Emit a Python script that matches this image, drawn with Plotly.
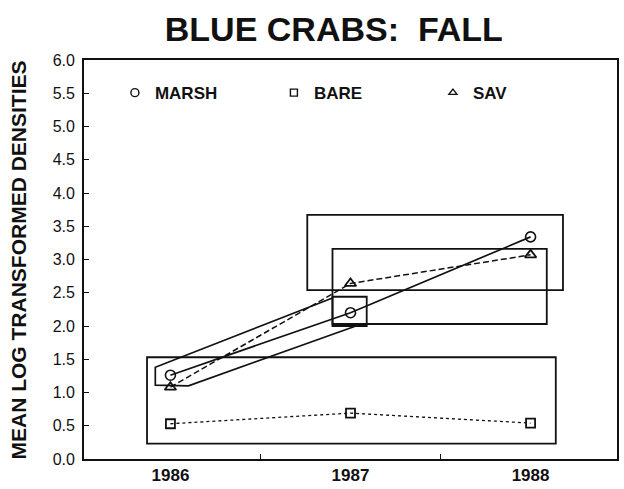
import plotly.graph_objects as go

# Sampling years and mean log-transformed blue crab densities (fall)
years = [1986, 1987, 1988]
marsh = [1.26, 2.20, 3.34]
bare = [0.53, 0.69, 0.54]
sav = [1.08, 2.64, 3.07]

year_labels = ["1986", "1987", "1988"]
y_ticks = [0.0, 0.5, 1.0, 1.5, 2.0, 2.5, 3.0, 3.5, 4.0, 4.5, 5.0, 5.5, 6.0]

# Groupings of means that do not differ significantly (year span, density span)
group_boxes = [
    ([1985.87, 1988.14], [0.23, 1.53]),
    ([1986.76, 1988.18], [2.54, 3.67]),
    ([1986.90, 1988.09], [2.03, 3.16]),
    ([1986.90, 1987.09], [2.00, 2.44]),
]
# Band linking the 1986 and 1987 marsh means
band_x = [1986.90, 1985.916, 1985.916, 1986.10, 1987.03]
band_y = [2.42, 1.38, 1.11, 1.10, 2.00]

INK = "#111111"
FONT = "Liberation Sans, Arial, sans-serif"
fig = go.Figure()

fig.add_trace(go.Scatter(x=band_x, y=band_y, mode="lines",
                         line=dict(color=INK, width=1.7),
                         showlegend=False, hoverinfo="skip"))

fig.add_trace(go.Scatter(x=years, y=bare, mode="lines+markers",
                         line=dict(color=INK, width=1.3, dash="dot"),
                         marker=dict(symbol="square-open", size=9,
                                     color=INK, line=dict(width=1.8)),
                         showlegend=False))
fig.add_trace(go.Scatter(x=years, y=sav, mode="lines+markers",
                         line=dict(color=INK, width=1.5, dash="6px,3px"),
                         marker=dict(symbol="triangle-up-open", size=10,
                                     color=INK, line=dict(width=1.8)),
                         showlegend=False))
fig.add_trace(go.Scatter(x=years, y=marsh, mode="lines+markers",
                         line=dict(color=INK, width=1.7),
                         marker=dict(symbol="circle-open", size=10,
                                     color=INK, line=dict(width=1.6)),
                         showlegend=False))

# Legend entries (markers only)
for name, sym, sz in [("MARSH", "circle-open", 8),
                      ("BARE", "square-open", 7),
                      ("SAV", "triangle-up-open", 7)]:
    fig.add_trace(go.Scatter(x=[None], y=[None], mode="markers", name=name,
                             marker=dict(symbol=sym, size=sz, color=INK,
                                         line=dict(width=1.4))))

for (bx, by) in group_boxes:
    fig.add_shape(type="rect", xref="x", yref="y",
                  x0=bx[0], x1=bx[1], y0=by[0], y1=by[1],
                  line=dict(color=INK, width=1.8), layer="below")

fig.update_layout(
    width=624, height=489,
    margin=dict(l=84, r=7, t=60, b=30),
    paper_bgcolor="white", plot_bgcolor="white",
    font=dict(family=FONT, color=INK),
    title=dict(text="<b>BLUE CRABS:  FALL</b>", x=0.535, xanchor="center",
               y=0.965, yanchor="top",
               font=dict(size=34, family=FONT)),
    legend=dict(orientation="h", x=0.058, y=0.917, xanchor="left",
                yanchor="middle", bgcolor="rgba(0,0,0,0)",
                entrywidth=114, itemwidth=30,
                font=dict(size=17, family=FONT, weight="bold")),
    showlegend=True,
)

fig.update_xaxes(range=[1985.52, 1988.48], tickvals=years, ticktext=year_labels,
                 ticks="", showline=True, linecolor=INK, linewidth=1.8,
                 mirror=True, showgrid=False, zeroline=False,
                 automargin=False, ticklabelstandoff=0,
                 tickfont=dict(size=17, weight="bold"),
                 minor=dict(ticks="inside", tick0=1985.5, dtick=1,
                            ticklen=5, tickcolor=INK, showgrid=False))
fig.update_yaxes(range=[0, 6.0], tickvals=y_ticks,
                 ticktext=[f"{v:.1f}" for v in y_ticks],
                 ticks="inside", ticklen=5, tickcolor=INK, tickwidth=1.3,
                 showline=True, linecolor=INK, linewidth=1.8, mirror=True,
                 showgrid=False, zeroline=False, automargin=False,
                 ticklabelstandoff=4, tickfont=dict(size=16))

fig.add_annotation(text="<b>MEAN LOG TRANSFORMED DENSITIES</b>",
                   xref="paper", yref="paper", x=-0.122, y=0.5,
                   xanchor="center", yanchor="middle", textangle=-90,
                   showarrow=False, font=dict(size=21, color=INK))

fig.write_html("out.html")
